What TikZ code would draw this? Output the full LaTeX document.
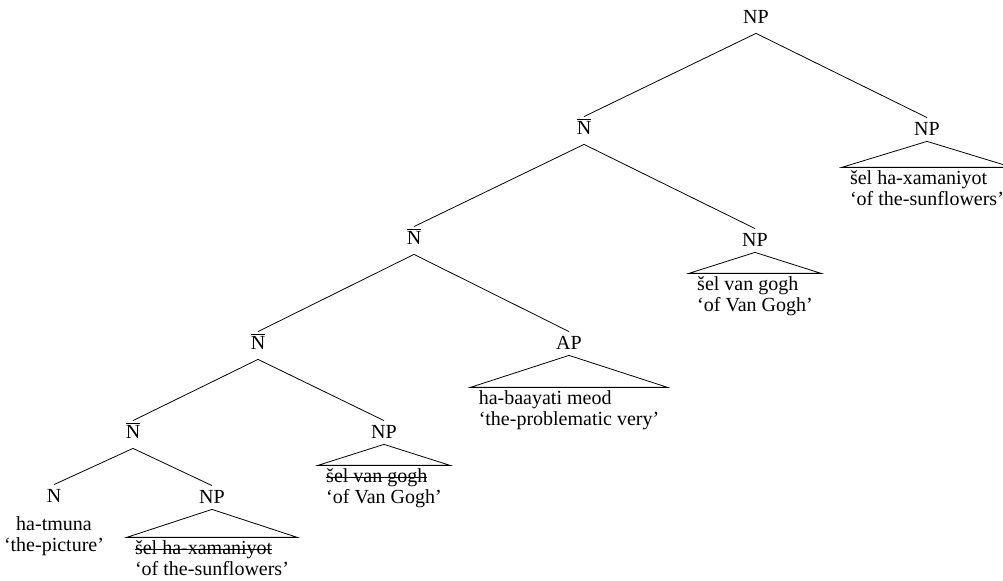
\documentclass[tikz,border=0pt]{standalone}
\usepackage{fontspec}
\setmainfont{Liberation Serif}
\usetikzlibrary{positioning}

\newcommand{\nbar}{$\overline{\mbox{N}}$}
\newlength{\strklen}
\newcommand{\strk}[1]{\settowidth{\strklen}{#1}\rlap{\rule[0.5ex]{\strklen}{0.4pt}}#1}

\tikzset{
  cat/.style={inner xsep=1pt, inner ysep=2.5pt, text height=6.5pt, text depth=2pt, anchor=base},
  leaf/.style={align=center, inner sep=0pt},
  roof/.style={align=left, inner xsep=4pt, inner ysep=1.5pt},
}

\begin{document}
\begin{tikzpicture}[x=0.5pt, y=-0.5pt, font=\fontsize{10}{10.5}\selectfont]

\useasboundingbox (0,0) rectangle (1003,581);

\node (np0) [cat] at (756,24) {NP};
\node (nb1) [cat] at (584,135) {\nbar};
\node (npr) [cat] at (927,136) {NP};
\node (nb2) [cat] at (414,245) {\nbar};
\node (npvg) [cat] at (755,247) {NP};
\node (nb3) [cat] at (258,350) {\nbar};
\node (ap) [cat] at (569,350) {AP};
\node (nb4) [cat] at (133,439) {\nbar};
\node (nps) [cat] at (384,439) {NP};
\node (n) [cat] at (54,503) {N};
\node (npb) [cat] at (212,504) {NP};

\node (n-t) [leaf, below=2pt of n] {ha-tmuna\\`the-picture'};
\node (npr-t) [roof, below=11pt of npr] {šel ha-xamaniyot\\`of the-sunflowers'};
\node (npvg-t) [roof, below=8.5pt of npvg] {šel van gogh\\`of Van Gogh'};
\node (ap-t) [roof, below=14pt of ap] {ha-baayati meod\\`the-problematic very'};
\node (nps-t) [roof, below=8.5pt of nps] {\strk{šel van gogh}\\`of Van Gogh'};
\node (npb-t) [roof, below=12pt of npb] {\strk{šel ha-xamaniyot}\\`of the-sunflowers'};

\draw (np0.south) -- (nb1.north);
\draw (np0.south) -- (npr.north);
\draw (nb1.south) -- (nb2.north);
\draw (nb1.south) -- (npvg.north);
\draw (nb2.south) -- (nb3.north);
\draw (nb2.south) -- (ap.north);
\draw (nb3.south) -- (nb4.north);
\draw (nb3.south) -- (nps.north);
\draw (nb4.south) -- (n.north);
\draw (nb4.south) -- (npb.north);

\draw ([yshift=2pt]npr.south) -- (npr-t.north west) -- (npr-t.north east) -- cycle;
\draw ([yshift=2pt]npvg.south) -- (npvg-t.north west) -- (npvg-t.north east) -- cycle;
\draw ([yshift=2pt]ap.south) -- (ap-t.north west) -- (ap-t.north east) -- cycle;
\draw ([yshift=2pt]nps.south) -- (nps-t.north west) -- (nps-t.north east) -- cycle;
\draw ([yshift=2pt]npb.south) -- (npb-t.north west) -- (npb-t.north east) -- cycle;

\end{tikzpicture}
\end{document}
